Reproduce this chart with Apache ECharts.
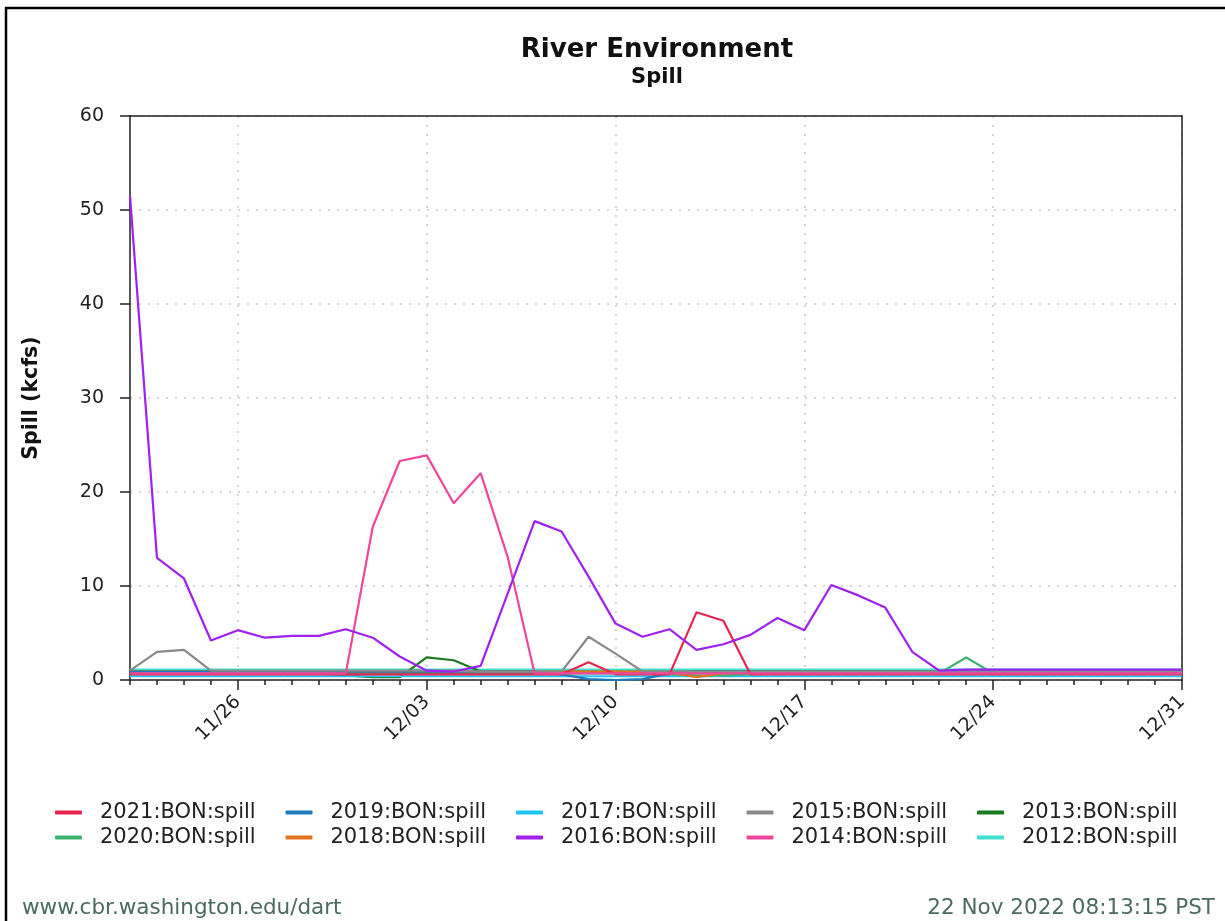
<!DOCTYPE html>
<html>
<head>
<meta charset="utf-8">
<script src="https://cdn.jsdelivr.net/npm/echarts@6/dist/echarts.min.js"></script>
<style>
  html, body { margin: 0; padding: 0; background: #fff; }
  #chart { width: 1225px; height: 921px; }
</style>
</head>
<body>
<div id="chart"></div>
<script>
// dates on the x axis, one per day
const days = [
  '11/22', '11/23', '11/24', '11/25', '11/26', '11/27', '11/28', '11/29', '11/30',
  '12/01', '12/02', '12/03', '12/04', '12/05', '12/06', '12/07', '12/08', '12/09', '12/10',
  '12/11', '12/12', '12/13', '12/14', '12/15', '12/16', '12/17', '12/18', '12/19', '12/20',
  '12/21', '12/22', '12/23', '12/24', '12/25', '12/26', '12/27', '12/28', '12/29', '12/30', '12/31'
];

// spill (kcfs)
const y2021 = [0.6, 0.6, 0.6, 0.6, 0.6, 0.6, 0.6, 0.6, 0.6, 0.6, 0.6, 0.6, 0.6, 0.6, 0.6, 0.6, 0.6, 1.9, 0.6, 0.6,
               0.6, 7.2, 6.3, 0.6, 0.6, 0.6, 0.6, 0.6, 0.6, 0.6, 0.6, 0.6, 0.6, 0.6, 0.6, 0.6, 0.6, 0.6, 0.6, 0.6];
const y2020 = [0.7, 0.7, 0.7, 0.7, 0.7, 0.7, 0.7, 0.7, 0.7, 0.7, 0.7, 0.7, 0.7, 0.7, 0.7, 0.7, 0.7, 0.7, 0.7, 0.7,
               0.6, 0.5, 0.5, 0.6, 0.7, 0.7, 0.7, 0.7, 0.7, 0.7, 0.7, 2.4, 0.7, 0.7, 0.7, 0.7, 0.7, 0.7, 0.7, 0.7];
const y2019 = [0.9, 0.9, 0.9, 0.9, 0.9, 0.9, 0.9, 0.9, 0.9, 0.9, 0.9, 0.9, 0.9, 0.9, 0.9, 0.9, 0.6, 0.1, 0.0, 0.1,
               0.7, 0.9, 0.9, 0.9, 0.9, 0.9, 0.9, 0.9, 0.9, 0.9, 0.9, 0.9, 0.9, 0.9, 0.9, 0.9, 0.9, 0.9, 0.9, 0.9];
const y2018 = [0.9, 0.9, 0.9, 0.9, 0.9, 0.9, 0.9, 0.9, 0.9, 0.9, 0.9, 0.9, 0.9, 0.9, 0.9, 0.9, 0.9, 0.9, 0.9, 0.9,
               0.8, 0.3, 0.7, 0.9, 0.9, 0.9, 0.9, 0.9, 0.9, 0.9, 0.9, 0.9, 0.9, 0.9, 0.9, 0.9, 0.9, 0.9, 0.9, 0.9];
const y2017 = [0.4, 0.4, 0.4, 0.4, 0.4, 0.4, 0.4, 0.4, 0.4, 0.4, 0.4, 0.4, 0.4, 0.4, 0.4, 0.4, 0.4, 0.4, 0.4, 0.4,
               0.4, 0.4, 0.4, 0.4, 0.4, 0.4, 0.4, 0.4, 0.4, 0.4, 0.4, 0.4, 0.4, 0.4, 0.4, 0.4, 0.4, 0.4, 0.4, 0.4];
const y2016 = [51.5, 13.0, 10.8, 4.2, 5.3, 4.5, 4.7, 4.7, 5.4, 4.5, 2.5, 1.0, 0.9, 1.5, 9.2, 16.9, 15.8, 11.0, 6.0, 4.6,
               5.4, 3.2, 3.8, 4.8, 6.6, 5.3, 10.1, 9.0, 7.7, 3.0, 1.0, 1.1, 1.1, 1.1, 1.1, 1.1, 1.1, 1.1, 1.1, 1.1];
const y2015 = [1.0, 3.0, 3.2, 1.0, 1.0, 1.0, 1.0, 1.0, 1.0, 1.0, 1.0, 1.0, 1.0, 0.9, 0.9, 0.9, 0.9, 4.6, 2.8, 0.9,
               0.9, 0.9, 0.9, 0.9, 0.9, 0.9, 0.9, 0.9, 0.9, 0.9, 0.9, 0.9, 0.9, 0.9, 0.9, 0.9, 0.9, 0.9, 0.9, 0.9];
const y2014 = [0.7, 0.7, 0.7, 0.7, 0.7, 0.7, 0.7, 0.7, 0.7, 16.3, 23.3, 23.9, 18.8, 22.0, 13.1, 0.7, 0.7, 0.7, 0.7, 0.7,
               0.7, 0.7, 0.7, 0.7, 0.7, 0.7, 0.7, 0.7, 0.7, 0.7, 0.7, 0.7, 0.7, 0.7, 0.7, 0.7, 0.7, 0.7, 0.7, 0.7];
const y2013 = [0.9, 0.9, 0.9, 0.9, 0.9, 0.9, 0.9, 0.7, 0.5, 0.3, 0.3, 2.4, 2.1, 0.9, 0.9, 0.9, 0.9, 0.9, 0.9, 0.9,
               0.9, 0.9, 0.9, 0.9, 0.9, 0.9, 0.9, 0.9, 0.9, 0.9, 0.9, 0.9, 0.9, 0.9, 0.9, 0.9, 0.9, 0.9, 0.9, 0.9];
const y2012 = [1.1, 1.1, 1.1, 1.1, 1.1, 1.1, 1.1, 1.1, 1.1, 1.1, 1.1, 1.1, 1.1, 1.1, 1.1, 1.1, 1.1, 1.1, 1.1, 1.1,
               1.1, 1.1, 1.1, 1.1, 1.1, 1.1, 1.1, 1.1, 1.1, 1.1, 1.1, 1.1, 1.1, 1.1, 1.1, 1.1, 1.1, 1.1, 1.1, 1.1];

const yTicks = [0, 10, 20, 30, 40, 50, 60];

// legend columns, top row then bottom row
const legendCols = [
  ['2021:BON:spill', '2020:BON:spill'],
  ['2019:BON:spill', '2018:BON:spill'],
  ['2017:BON:spill', '2016:BON:spill'],
  ['2015:BON:spill', '2014:BON:spill'],
  ['2013:BON:spill', '2012:BON:spill']
];

// drawn bottom first, so the big lines sit on top
const lines = [
  { name: '2012:BON:spill', color: '#40e0d0', data: y2012 },
  { name: '2013:BON:spill', color: '#1b7a1b', data: y2013 },
  { name: '2017:BON:spill', color: '#1ec4f7', data: y2017 },
  { name: '2020:BON:spill', color: '#3cb371', data: y2020 },
  { name: '2018:BON:spill', color: '#e5731e', data: y2018 },
  { name: '2019:BON:spill', color: '#1f78b8', data: y2019 },
  { name: '2015:BON:spill', color: '#8a8a8a', data: y2015 },
  { name: '2021:BON:spill', color: '#e8254e', data: y2021 },
  { name: '2014:BON:spill', color: '#f0479a', data: y2014 },
  { name: '2016:BON:spill', color: '#a020f0', data: y2016 }
];

const FONT = '"DejaVu Sans", sans-serif';
const INK = '#222';
const isMajor = (idx) => (idx - 4) % 7 === 0;
const dotted = { color: '#c8c8c8', width: 1.5, type: [2, 7] };
const frameLine = { show: true, lineStyle: { color: INK, width: 1.5 } };

const chart = echarts.init(document.getElementById('chart'), null, { renderer: 'canvas' });

const option = {
  animation: false,
  backgroundColor: '#fff',
  textStyle: { fontFamily: FONT },
  title: {
    text: 'River Environment',
    subtext: 'Spill',
    left: 652,
    top: 32,
    textAlign: 'center',
    itemGap: 4,
    textStyle: { fontFamily: FONT, fontSize: 26, fontWeight: 'bold', color: '#111' },
    subtextStyle: { fontFamily: FONT, fontSize: 21, fontWeight: 'bold', color: '#111' }
  },
  grid: { left: 130, right: 43, top: 116, bottom: 241 },
  legend: legendCols.map((col, i) => ({
    data: col,
    orient: 'vertical',
    left: 55 + i * 230.5,
    top: 802,
    padding: 0,
    itemGap: 4,
    icon: 'roundRect',
    itemWidth: 27,
    itemHeight: 4,
    selectedMode: false,
    textStyle: { fontFamily: FONT, fontSize: 21, color: INK, padding: [0, 0, 0, 13], lineHeight: 21 }
  })),
  xAxis: [
    {
      type: 'category',
      data: days,
      boundaryGap: false,
      axisLine: frameLine,
      axisTick: { interval: 0, length: 5, lineStyle: { color: INK, width: 1.5 } },
      axisLabel: { show: false },
      splitLine: { show: true, interval: isMajor, lineStyle: dotted }
    },
    {
      type: 'category',
      data: days,
      boundaryGap: false,
      position: 'bottom',
      axisLine: { show: false },
      axisTick: { interval: isMajor, length: 10, lineStyle: { color: INK, width: 1.5 } },
      axisLabel: {
        interval: isMajor, rotate: 45, margin: 19,
        fontFamily: FONT, fontSize: 19, color: INK
      },
      splitLine: { show: false }
    },
    {
      // top edge of the plot frame
      type: 'category',
      data: days,
      boundaryGap: false,
      position: 'top',
      axisLine: frameLine,
      axisTick: { show: false },
      axisLabel: { show: false },
      splitLine: { show: false }
    }
  ],
  yAxis: [
    {
      type: 'value',
      min: yTicks[0],
      max: yTicks[yTicks.length - 1],
      interval: 10,
      name: 'Spill (kcfs)',
      nameLocation: 'middle',
      nameRotate: 90,
      nameGap: 88,
      nameTextStyle: { fontFamily: FONT, fontSize: 20.5, fontWeight: 'bold', color: '#111' },
      axisLine: frameLine,
      axisTick: { show: true, length: 10, lineStyle: { color: INK, width: 1.5 } },
      axisLabel: { fontFamily: FONT, fontSize: 19, color: INK, margin: 26 },
      splitLine: { show: true, lineStyle: dotted }
    },
    {
      // right edge of the plot frame
      type: 'value',
      min: yTicks[0],
      max: yTicks[yTicks.length - 1],
      interval: 10,
      position: 'right',
      axisLine: frameLine,
      axisTick: { show: false },
      axisLabel: { show: false },
      splitLine: { show: false }
    }
  ],
  series: lines.map(s => ({
    name: s.name,
    type: 'line',
    data: s.data,
    showSymbol: false,
    symbol: 'none',
    color: s.color,
    lineStyle: { color: s.color, width: 2.2 }
  })),
  graphic: [
    {
      type: 'rect',
      shape: { x: 6, y: 8, width: 1260, height: 960 },
      style: { fill: 'none', stroke: '#000', lineWidth: 2.5 },
      silent: true
    },
    {
      type: 'text',
      left: 22, top: 897,
      style: { text: 'www.cbr.washington.edu/dart', font: '21.5px ' + FONT, fill: '#4a6b5d' }
    },
    {
      type: 'text',
      right: 10, top: 897,
      style: { text: '22 Nov 2022 08:13:15 PST', font: '21.5px ' + FONT, fill: '#4a6b5d' }
    }
  ]
};

chart.setOption(option);
</script>
</body>
</html>
